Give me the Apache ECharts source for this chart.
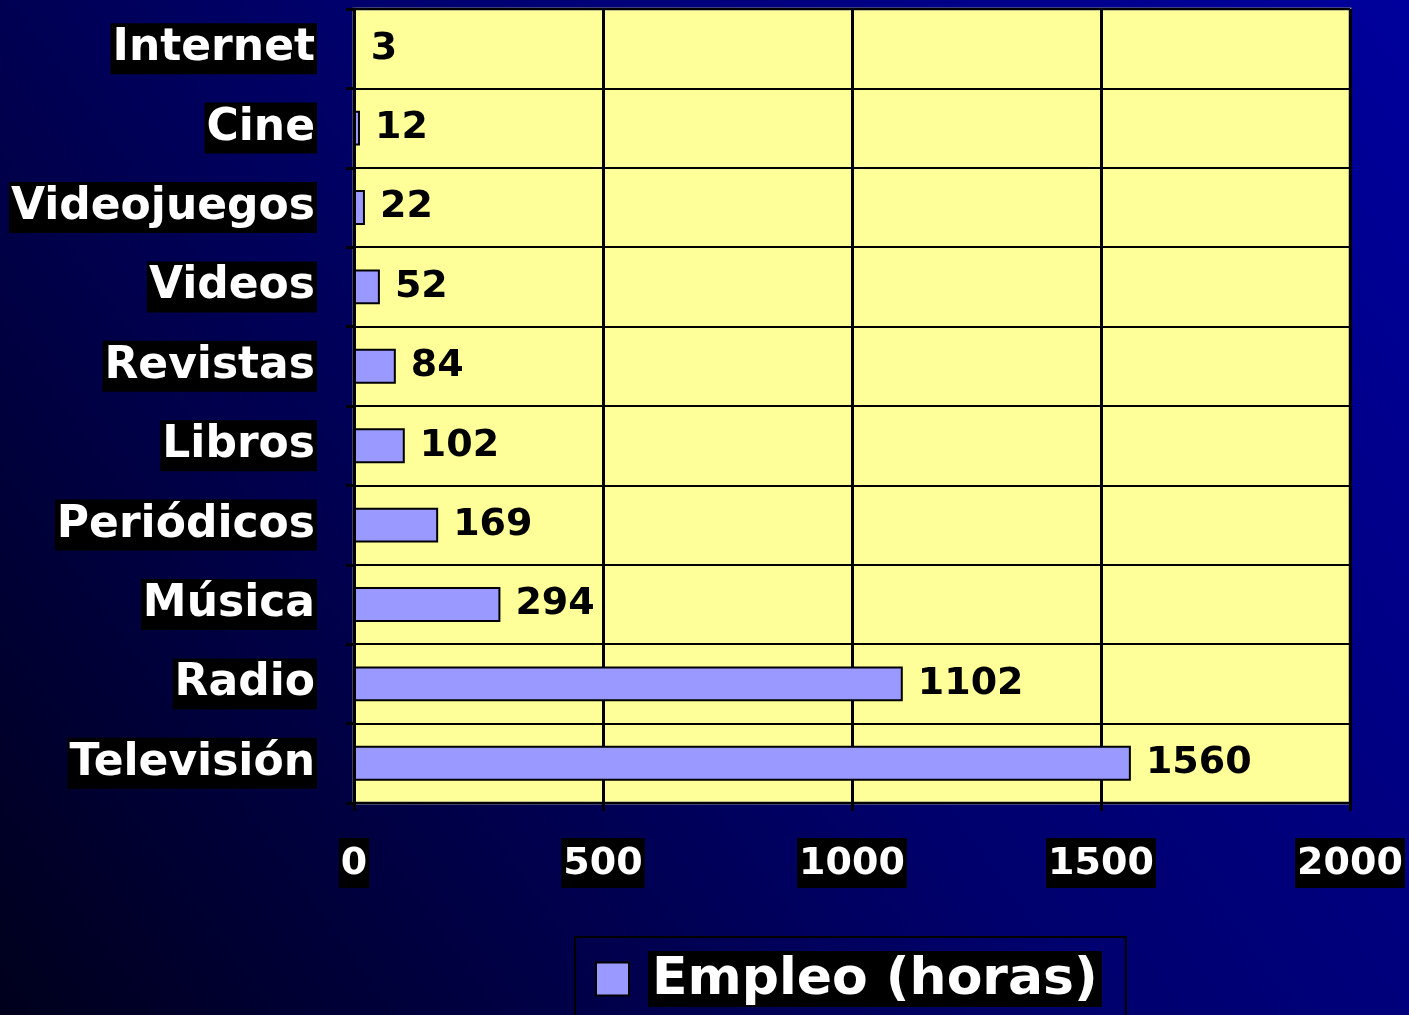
<!DOCTYPE html>
<html>
<head>
<meta charset="utf-8">
<script src="https://cdn.jsdelivr.net/npm/echarts@6/dist/echarts.min.js"></script>
<style>
  html, body { margin: 0; padding: 0; }
  #chart { width: 1409px; height: 1015px; }
</style>
</head>
<body>
<div id="chart"></div>
<script>
var categories = ['Internet', 'Cine', 'Videojuegos', 'Videos', 'Revistas', 'Libros', 'Periódicos', 'Música', 'Radio', 'Televisión'];
var horas = [3, 12, 22, 52, 84, 102, 169, 294, 1102, 1560];
var seriesName = 'Empleo (horas)';
var xTicks = { min: 0, max: 2000, interval: 500 };

(function() {
  var font = '"DejaVu Sans", Verdana, sans-serif';
  var chart = echarts.init(document.getElementById('chart'), null, { renderer: 'canvas' });
  chart.setOption({
    animation: false,
    backgroundColor: {
      type: 'linear', x: 0, y: 1, x2: 1, y2: 0,
      colorStops: [
        { offset: 0, color: '#00001c' },
        { offset: 0.5, color: '#00006c' },
        { offset: 1, color: '#00009c' }
      ]
    },
    grid: {
      left: 354, right: 59, top: 9, bottom: 212,
      outerBoundsMode: 'none',
      containLabel: false,
      show: true,
      backgroundColor: '#FFFF99',
      borderColor: '#808080',
      borderWidth: 3
    },
    legend: {
      left: 575, top: 937,
      padding: [14, 24, 30, 20],
      borderColor: '#000',
      borderWidth: 2,
      itemWidth: 33,
      itemHeight: 33,
      icon: 'rect',
      data: [seriesName],
      formatter: function(n) { return '{gap|}{t|' + n + '}'; },
      textStyle: {
        rich: {
          gap: { width: 14 },
          t: {
            color: '#fff', fontSize: 52, fontWeight: 'bold', fontFamily: font,
            backgroundColor: '#000', padding: [3, 4, 1, 4]
          }
        }
      }
    },
    xAxis: {
      type: 'value',
      min: xTicks.min, max: xTicks.max, interval: xTicks.interval,
      axisLine: { show: true, lineStyle: { color: '#000', width: 2 } },
      axisTick: { show: true, length: 8, lineStyle: { color: '#000', width: 3 } },
      splitLine: { show: true, lineStyle: { color: '#000', width: 3 } },
      axisLabel: {
        formatter: function(v) { return String(v); },
        color: '#fff', fontSize: 38, fontWeight: 'bold', fontFamily: font,
        backgroundColor: '#000', padding: [7, 2, 5, 2], margin: 35
      }
    },
    yAxis: {
      type: 'category',
      inverse: true,
      data: categories,
      axisLine: { show: true, lineStyle: { color: '#000', width: 3 } },
      axisTick: { show: true, length: 8, lineStyle: { color: '#000', width: 3 } },
      splitLine: { show: true, lineStyle: { color: '#000', width: 2 } },
      axisLabel: {
        color: '#fff', fontSize: 44, fontWeight: 'bold', fontFamily: font,
        backgroundColor: '#000', padding: [4, 2, 3, 2], margin: 37
      }
    },
    series: [{
      name: seriesName,
      type: 'bar',
      data: horas,
      barWidth: '44%',
      itemStyle: { color: '#9999FF', borderColor: '#000', borderWidth: 2 },
      label: {
        show: true, position: 'right', distance: 15,
        color: '#000', fontSize: 38, fontWeight: 'bold', fontFamily: font
      }
    }]
  });
  window.addEventListener('resize', function() { chart.resize(); });
})();
</script>
</body>
</html>
